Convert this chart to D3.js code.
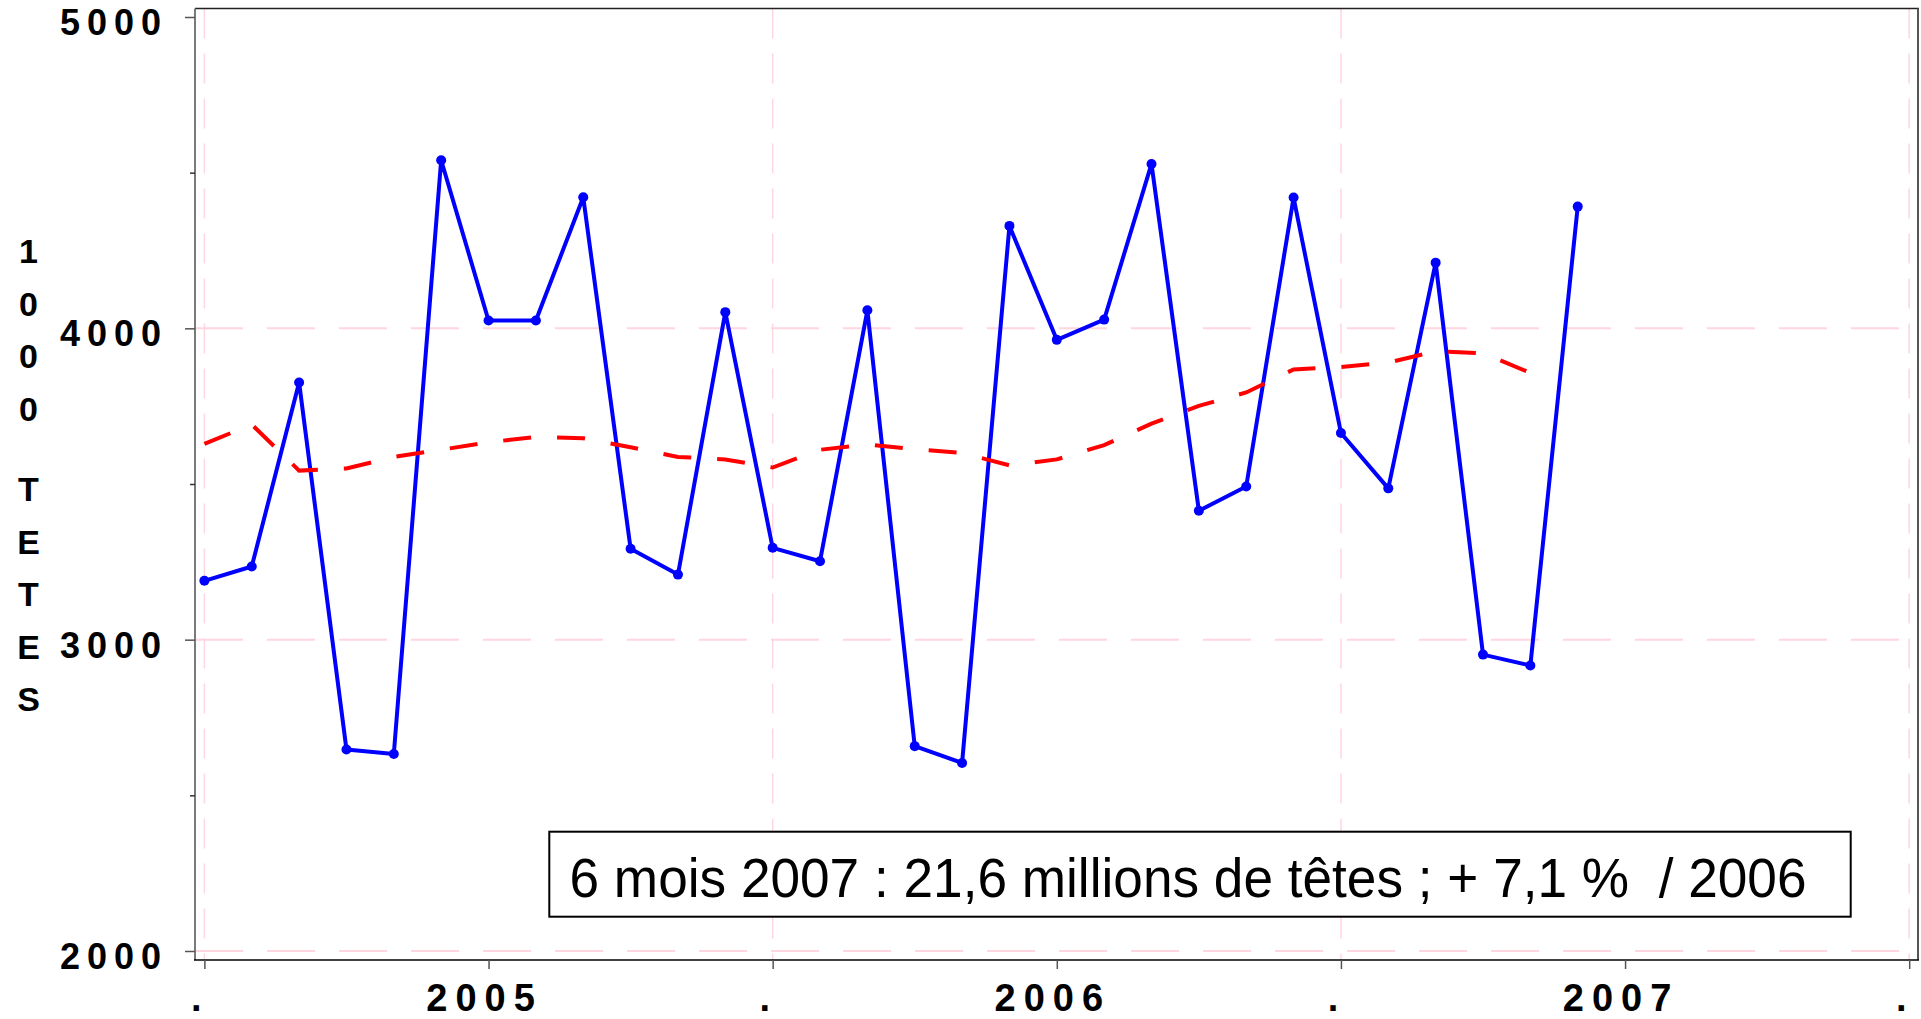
<!DOCTYPE html>
<html>
<head>
<meta charset="utf-8">
<script src="https://cdnjs.cloudflare.com/ajax/libs/d3/7.8.5/d3.min.js"></script>
<style>
  body { margin: 0; background: #fff; }
</style>
</head>
<body>
<script>
// mois : janvier 2005 -> juin 2007
var months = ["2005-01", "2005-02", "2005-03", "2005-04", "2005-05", "2005-06",
              "2005-07", "2005-08", "2005-09", "2005-10", "2005-11", "2005-12",
              "2006-01", "2006-02", "2006-03", "2006-04", "2006-05", "2006-06",
              "2006-07", "2006-08", "2006-09", "2006-10", "2006-11", "2006-12",
              "2007-01", "2007-02", "2007-03", "2007-04", "2007-05", "2007-06"];

// abattages mensuels, 1000 tetes
var abattages = [3189, 3235, 3826, 2647, 2633, 4540, 4025, 4025, 4421, 3292, 3209, 4052,
                 3295, 3252, 4058, 2658, 2604, 4329, 3963, 4028, 4528, 3414, 3492, 4420,
                 3664, 3486, 4211, 2952, 2917, 4391];

// tendance (pointilles rouges)
var tendance = [3629, 3691, 3543, 3550, 3587, 3610, 3634, 3651, 3647, 3618, 3587, 3579,
                3553, 3610, 3627, 3612, 3600, 3560, 3579, 3625, 3694, 3751, 3794, 3868,
                3876, 3890, 3926, 3920, 3857];

var xTickPos = [0, 6, 12, 18, 24, 30, 36];
var xTickLabels = [".", "2005", ".", "2006", ".", "2007", "."];
var xGrid = [0, 12, 24, 36];
var yTicks = [2000, 3000, 4000, 5000];
var yMinorTicks = [2500, 3500, 4500];
var yGrid = [2000, 3000, 4000];
var yTitle = ["1", "0", "0", "0", " ", "T", "E", "T", "E", "S"];
var note = "6 mois 2007 : 21,6 millions de têtes ; + 7,1 %  / 2006";

// Width and height
let w = 1921;
let h = 1019;
let pLeft = 195, pRight = 1918, pTop = 8.5, pBottom = 960;
let font = "'Liberation Sans', Arial, sans-serif";

let svg = d3.select("body")
            .append("svg")
            .attr("width", w)
            .attr("height", h);

let x = d3.scaleLinear().domain([0, 36]).range([204.4, 1909.2]);
let y = d3.scaleLinear().domain([2000, 5000]).range([951, 17]);

//====grille rose====//
svg.selectAll(".gridy")
   .data(yGrid)
   .enter()
   .append("line")
   .attr("x1", pLeft)
   .attr("x2", pRight)
   .attr("y1", function(d) { return y(d); })
   .attr("y2", function(d) { return y(d); })
   .attr("stroke", "#ffd6df")
   .attr("stroke-width", 2)
   .attr("stroke-dasharray", "48,24");

svg.selectAll(".gridx")
   .data(xGrid)
   .enter()
   .append("line")
   .attr("x1", function(d) { return x(d); })
   .attr("x2", function(d) { return x(d); })
   .attr("y1", pTop)
   .attr("y2", pBottom)
   .attr("stroke", "#ffd6df")
   .attr("stroke-width", 1.5)
   .attr("stroke-dasharray", "30,15");

//====cadre====//
svg.append("line").attr("x1", pLeft).attr("x2", pRight + 1).attr("y1", pTop).attr("y2", pTop)
   .attr("stroke", "#222").attr("stroke-width", 1.5);
svg.append("line").attr("x1", pRight).attr("x2", pRight).attr("y1", pTop).attr("y2", pBottom)
   .attr("stroke", "#555").attr("stroke-width", 2);
svg.append("line").attr("x1", pLeft).attr("x2", pLeft).attr("y1", pTop).attr("y2", pBottom)
   .attr("stroke", "#7a7a7a").attr("stroke-width", 2);
svg.append("line").attr("x1", pLeft - 1).attr("x2", pRight + 1).attr("y1", pBottom).attr("y2", pBottom)
   .attr("stroke", "#000").attr("stroke-width", 1.5);

//====axe y====//
let gy = svg.append("g")
            .attr("transform", "translate(" + pLeft + ",0)")
            .call(d3.axisLeft(y).tickValues(yTicks).tickSize(10).tickPadding(17).tickFormat(d3.format("d")));
gy.select(".domain").remove();
gy.selectAll("line").attr("stroke", "#555").attr("stroke-width", 1.5);
gy.selectAll("text")
  .attr("font-family", font)
  .attr("font-weight", "bold")
  .attr("font-size", 36)
  .attr("letter-spacing", 7)
  .attr("dy", "0.49em")
  .attr("fill", "#000");

let gym = svg.append("g")
             .attr("transform", "translate(" + pLeft + ",0)")
             .call(d3.axisLeft(y).tickValues(yMinorTicks).tickSize(5).tickFormat(""));
gym.select(".domain").remove();
gym.selectAll("line").attr("stroke", "#333").attr("stroke-width", 1.5);

//====axe x====//
let gx = svg.append("g")
            .attr("transform", "translate(0," + pBottom + ")")
            .call(d3.axisBottom(x).tickValues(xTickPos).tickSize(9)
                    .tickFormat(function(d, i) { return xTickLabels[i]; }));
gx.select(".domain").remove();
gx.selectAll("line").attr("stroke", "#555").attr("stroke-width", 1.5);
gx.selectAll("text")
  .attr("font-family", font)
  .attr("font-weight", "bold")
  .attr("font-size", 38)
  .attr("letter-spacing", 8)
  .attr("y", 50.5)
  .attr("dy", 0)
  .attr("dx", -4.5)
  .attr("fill", "#000");

//====titre y, lettres empilees====//
let ty = 263.2;
yTitle.forEach(function(c) {
  if (c === " ") { ty += 28; return; }
  svg.append("text")
     .attr("x", 28.5)
     .attr("y", ty)
     .attr("text-anchor", "middle")
     .attr("font-family", font)
     .attr("font-weight", "bold")
     .attr("font-size", 34)
     .text(c);
  ty += 52.5;
});

//====courbes====//
let line = d3.line()
             .x(function(d, i) { return x(i); })
             .y(function(d) { return y(d); });

svg.append("path")
   .datum(abattages)
   .attr("d", line)
   .attr("fill", "none")
   .attr("stroke", "#0000ff")
   .attr("stroke-width", 4)
   .attr("stroke-linejoin", "round");

svg.selectAll(".pt")
   .data(abattages)
   .enter()
   .append("circle")
   .attr("cx", function(d, i) { return x(i); })
   .attr("cy", function(d) { return y(d); })
   .attr("r", 5)
   .attr("fill", "#0000ff");

svg.append("path")
   .datum(tendance)
   .attr("d", line)
   .attr("fill", "none")
   .attr("stroke", "#ff0000")
   .attr("stroke-width", 4)
   .attr("stroke-dasharray", "28,26");

//====encadre====//
svg.append("rect")
   .attr("x", 549.3)
   .attr("y", 831.7)
   .attr("width", 1301.4)
   .attr("height", 85)
   .attr("fill", "#fff")
   .attr("stroke", "#000")
   .attr("stroke-width", 2);

svg.append("text")
   .attr("x", 569.5)
   .attr("y", 896.7)
   .attr("font-family", font)
   .attr("font-size", 56)
   .attr("textLength", 1237)
   .attr("lengthAdjust", "spacingAndGlyphs")
   .style("white-space", "pre")
   .text(note);
</script>
</body>
</html>
